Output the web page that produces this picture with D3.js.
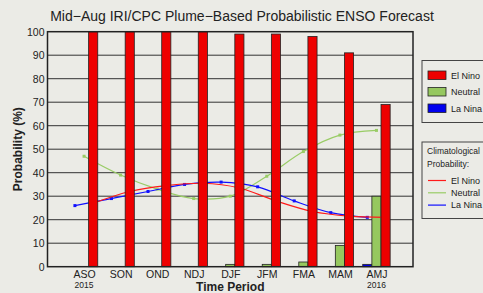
<!DOCTYPE html>
<html>
<meta charset="utf-8">
<script src="https://d3js.org/d3.v7.min.js"></script>
<style>
  body { margin: 0; background: #ebebe6; }
  text { font-family: "Liberation Sans", Arial, sans-serif; fill: #222; }
</style>
<div id="chart"></div>
<script>

var periods = ["ASO", "SON", "OND", "NDJ", "DJF", "JFM", "FMA", "MAM", "AMJ"]
var years = {"ASO": "2015", "AMJ": "2016"}

var elNino = [100, 100, 100, 100, 99, 99, 98, 91, 69]
var neutral = [0, 0, 0, 0, 1, 1, 2, 9, 30]
var laNina = [0, 0, 0, 0, 0, 0, 0, 0, 1]

var climElNino = [27, 32, 34.5, 35.5, 33.5, 28, 23.5, 21.5, 21]
var climNeutral = [47, 39, 33, 29, 30, 38.5, 49, 56, 58]
var climLaNina = [26, 29, 32, 35, 36, 34, 28, 23, 21]

var yTicks = [0, 10, 20, 30, 40, 50, 60, 70, 80, 90, 100]

var colors = {elNino: "#ee0000", neutral: "#96c85f", laNina: "#0000ee"}
var lineColors = {elNino: "#ff1a1a", neutral: "#99cc66", laNina: "#1010ff"}

var width = 483, height = 293
var plot = {left: 47.5, right: 413, top: 31.7, bottom: 266.7}

var svg = d3.select("#chart")
  .append("svg")
  .attr("width", width)
  .attr("height", height)

svg.append("rect")
  .attr("width", width)
  .attr("height", height)
  .attr("fill", "#ebebe6")

var x = d3.scaleLinear()
  .domain([-1, periods.length])
  .range([plot.left, plot.right])

var y = d3.scaleLinear()
  .domain([0, 100])
  .range([plot.bottom, plot.top])

var step = x(1) - x(0)
var bw = step * 0.25

// grid
svg.append("g")
  .selectAll("line")
  .data(yTicks.filter(function(d) { return d > 0 && d < 100 }))
  .enter()
  .append("line")
  .attr("x1", plot.left)
  .attr("x2", plot.right)
  .attr("y1", function(d) { return y(d) })
  .attr("y2", function(d) { return y(d) })
  .attr("stroke", "#333")
  .attr("stroke-width", 1)

// y axis labels
var yAxis = svg.append("g")
  .attr("transform", "translate(" + plot.left + ",0)")
  .call(d3.axisLeft(y).tickValues(yTicks).tickSize(0).tickPadding(3))
yAxis.select(".domain").remove()
yAxis.selectAll("text")
  .style("font-family", "Liberation Sans, Arial, sans-serif")
  .style("font-size", "10.5px")
  .attr("fill", "#222")

// x axis labels
var xAxis = svg.append("g")
  .attr("transform", "translate(0," + plot.bottom + ")")
  .call(d3.axisBottom(x)
    .tickValues(d3.range(periods.length))
    .tickFormat(function(i) { return periods[i] })
    .tickSize(0).tickPadding(4))
xAxis.select(".domain").remove()
xAxis.selectAll("text")
  .style("font-family", "Liberation Sans, Arial, sans-serif")
  .style("font-size", "10.5px")
  .attr("fill", "#222")

svg.append("g")
  .selectAll("text")
  .data(periods.filter(function(p) { return years[p] }))
  .enter()
  .append("text")
  .attr("x", function(p) { return x(periods.indexOf(p)) })
  .attr("y", 288)
  .attr("text-anchor", "middle")
  .style("font-size", "8.5px")
  .text(function(p) { return years[p] })

// climatology lines
function climLine(vals, offset, color, marks) {
  var line = d3.line()
    .x(function(d, i) { return x(i) + offset })
    .y(function(d) { return y(d) })
    .curve(d3.curveCatmullRom)
  svg.append("path")
    .datum(vals)
    .attr("d", line)
    .attr("fill", "none")
    .attr("stroke", color)
    .attr("stroke-width", 1.2)
  if (marks) {
    svg.append("g")
      .selectAll("rect")
      .data(vals)
      .enter()
      .append("rect")
      .attr("x", function(d, i) { return x(i) + offset - 1.5 })
      .attr("y", function(d) { return y(d) - 1.5 })
      .attr("width", 3)
      .attr("height", 3)
      .attr("fill", color)
  }
}

// bars
function bars(vals, offset, color) {
  var data = vals.map(function(v, i) { return {i: i, v: v} })
    .filter(function(d) { return d.v > 0 })
  svg.append("g")
    .selectAll("rect")
    .data(data)
    .enter()
    .append("rect")
    .attr("x", function(d) { return x(d.i) + offset - bw / 2 })
    .attr("y", function(d) { return y(d.v) })
    .attr("width", bw)
    .attr("height", function(d) { return y(0) - y(d.v) })
    .attr("fill", color)
    .attr("stroke", "#222")
    .attr("stroke-width", 0.8)
}

bars(laNina, -bw, colors.laNina)
bars(neutral, 0, colors.neutral)
climLine(climNeutral, 0, lineColors.neutral, true)
climLine(climLaNina, -bw, lineColors.laNina, true)
climLine(climElNino, bw, lineColors.elNino, false)
bars(elNino, bw, colors.elNino)

// frame
svg.append("rect")
  .attr("x", plot.left)
  .attr("y", plot.top)
  .attr("width", plot.right - plot.left)
  .attr("height", plot.bottom - plot.top)
  .attr("fill", "none")
  .attr("stroke", "#222")
  .attr("stroke-width", 1.5)

// titles
svg.append("text")
  .attr("x", 242)
  .attr("y", 21)
  .attr("text-anchor", "middle")
  .style("font-size", "14px")
  .text("Mid\u2212Aug IRI/CPC Plume\u2212Based Probabilistic ENSO Forecast")

svg.append("text")
  .attr("x", (plot.left + plot.right) / 2)
  .attr("y", 291)
  .attr("text-anchor", "middle")
  .style("font-size", "12px")
  .style("font-weight", "bold")
  .text("Time Period")

svg.append("text")
  .attr("transform", "translate(21.5," + ((plot.top + plot.bottom) / 2) + ") rotate(-90)")
  .attr("text-anchor", "middle")
  .style("font-size", "12px")
  .style("font-weight", "bold")
  .text("Probability (%)")

// legend: forecast bars
var legendBars = [
  {name: "El Nino", color: colors.elNino},
  {name: "Neutral", color: colors.neutral},
  {name: "La Nina", color: colors.laNina}
]
var lg1 = svg.append("g").attr("transform", "translate(422,60.5)")
lg1.append("rect")
  .attr("width", 70).attr("height", 62)
  .attr("fill", "none").attr("stroke", "#444").attr("stroke-width", 1)
lg1.selectAll(".sw")
  .data(legendBars)
  .enter()
  .append("rect")
  .attr("x", 6)
  .attr("y", function(d, i) { return 10.5 + i * 16.5 })
  .attr("width", 18)
  .attr("height", 8.5)
  .attr("fill", function(d) { return d.color })
  .attr("stroke", "#222")
  .attr("stroke-width", 0.8)
lg1.selectAll(".lb")
  .data(legendBars)
  .enter()
  .append("text")
  .attr("x", 29)
  .attr("y", function(d, i) { return 18 + i * 16.5 })
  .style("font-size", "9px")
  .text(function(d) { return d.name })

// legend: climatology lines
var legendLines = [
  {name: "El Nino", color: lineColors.elNino},
  {name: "Neutral", color: lineColors.neutral},
  {name: "La Nina", color: lineColors.laNina}
]
var lg2 = svg.append("g").attr("transform", "translate(422,142)")
lg2.append("rect")
  .attr("width", 70).attr("height", 76.5)
  .attr("fill", "none").attr("stroke", "#444").attr("stroke-width", 1)
lg2.append("text").attr("x", 5).attr("y", 12).style("font-size", "8.5px").text("Climatological")
lg2.append("text").attr("x", 5).attr("y", 25).style("font-size", "8.5px").text("Probability:")
lg2.selectAll("line")
  .data(legendLines)
  .enter()
  .append("line")
  .attr("x1", 6)
  .attr("x2", 24)
  .attr("y1", function(d, i) { return 38.5 + i * 12.3 })
  .attr("y2", function(d, i) { return 38.5 + i * 12.3 })
  .attr("stroke", function(d) { return d.color })
  .attr("stroke-width", 1.2)
lg2.selectAll(".lb")
  .data(legendLines)
  .enter()
  .append("text")
  .attr("x", 29)
  .attr("y", function(d, i) { return 41.5 + i * 12.3 })
  .style("font-size", "9px")
  .text(function(d) { return d.name })

</script>
</html>
